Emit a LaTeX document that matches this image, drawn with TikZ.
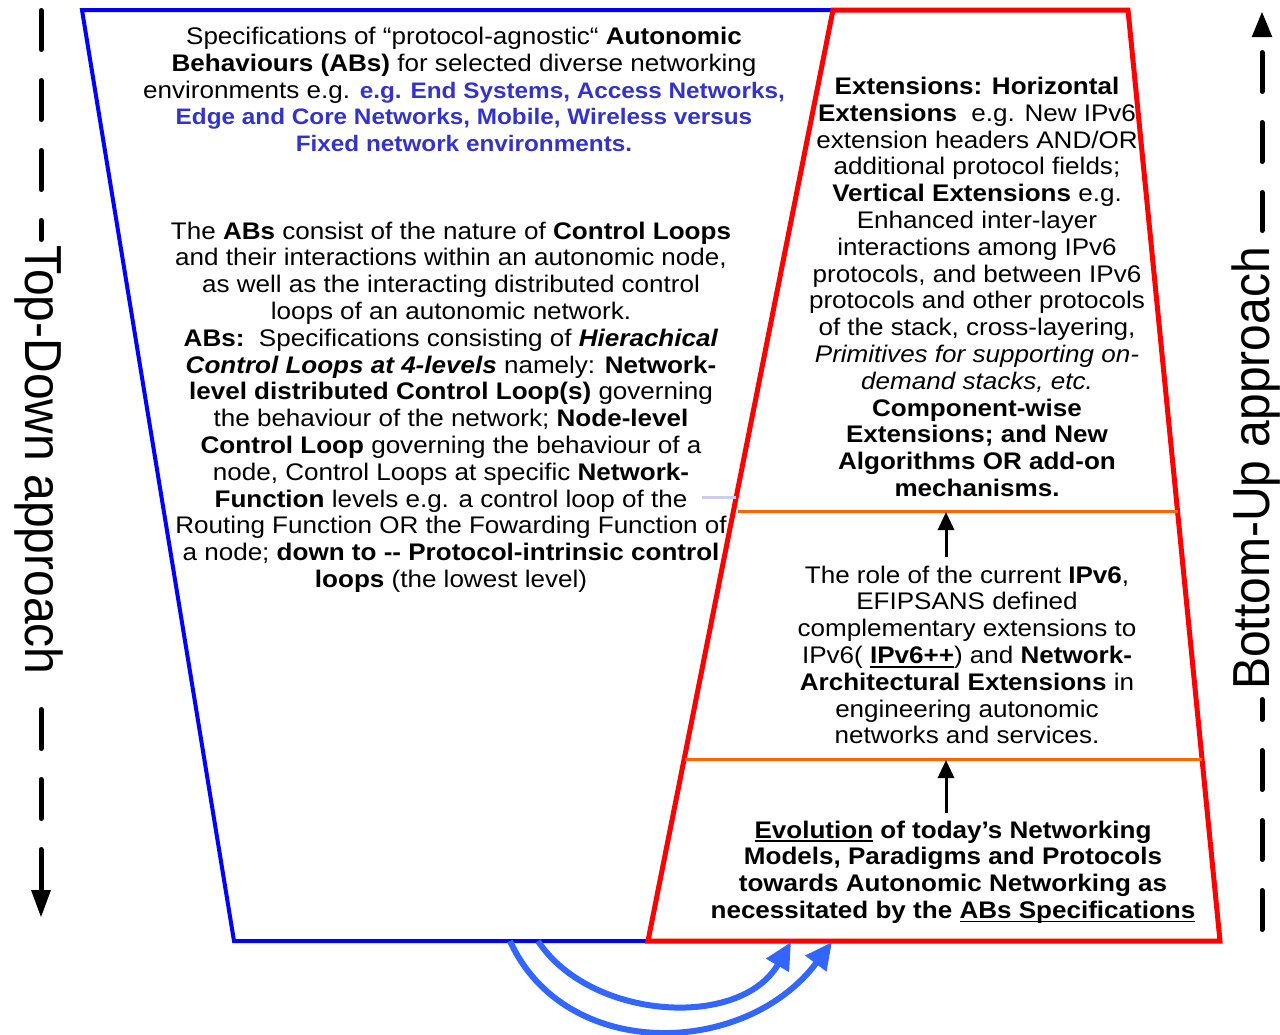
\documentclass[tikz,border=0pt]{standalone}
\usepackage{fontspec}
\setmainfont{Liberation Sans}[FakeStretch=1.085]
\newfontfamily\rotfont{Liberation Sans}
\usetikzlibrary{arrows.meta}
\definecolor{abblue}{HTML}{3333CC}
\definecolor{curveblue}{HTML}{3366FF}
\definecolor{lineorange}{HTML}{FF6600}
\definecolor{lavline}{HTML}{CCCCF5}
\definecolor{edgeblue}{HTML}{0000FF}
\definecolor{edgered}{HTML}{FF0000}
\newsavebox{\ulxbox}
\newcommand\ulx[1]{\leavevmode\sbox{\ulxbox}{#1}\rlap{\rule[-4pt]{\wd\ulxbox}{1.8pt}}\usebox{\ulxbox}}
\newcommand\bluetxt[1]{{\fontsize{22.4}{26.8}\selectfont\bfseries\color{abblue}#1}}
\tikzset{
  txt/.style={align=center, inner sep=0pt, font=\fontsize{24}{26.8}\selectfont},
  rottxt/.style={inner sep=0pt, font=\rotfont\fontsize{48}{50}\selectfont},
  blueedge/.style={draw=edgeblue, line width=4pt},
  rededge/.style={draw=edgered, line width=5pt},
  orangeline/.style={draw=lineorange, line width=3pt},
  upblack/.style={draw=black, line width=3pt, -{Triangle[length=18pt,width=16pt]}},
  dashline/.style={draw=black, line width=5pt, line cap=round, dash pattern=on 39pt off 31pt},
  curvearrow/.style={draw=curveblue, line width=6pt, -{Triangle[length=27pt,width=25pt]}}
}
\begin{document}
\begin{tikzpicture}[x=1pt,y=-1pt]
\useasboundingbox (0,0) rectangle (1280,1034);

% outlines
\draw[blueedge] (833,10) -- (82,10) -- (234,941) -- (648,941);
\draw[rededge] (648,941) -- (833,10) -- (1128,10) -- (1220,941) -- cycle;
\draw[orangeline] (738,511) -- (1178,511);
\draw[orangeline] (685,759) -- (1202,759);
\draw[draw=lavline, line width=3pt] (702,497) -- (736,497);

% text blocks
\node[txt] (spec) at (464,89.5) {Specifications of “protocol-agnostic“ \textbf{Autonomic}\\
\textbf{Behaviours (ABs)} for selected diverse networking\\
environments e.g. \bluetxt{e.g. End Systems, Access Networks,}\\
\bluetxt{Edge and Core Networks, Mobile, Wireless versus}\\
\bluetxt{Fixed network environments.}};

\node[txt] (loops) at (451,407) {The \textbf{ABs} consist of the nature of \textbf{Control Loops}\\
and their interactions within an autonomic node,\\
as well as the interacting distributed control\\
loops of an autonomic network.\\
\textbf{ABs:}\ \ Specifications consisting of \textbf{\textit{Hierachical}}\\
\textbf{\textit{Control Loops at 4-levels}} namely: \textbf{Network-}\\
\textbf{level distributed Control Loop(s)} governing\\
the behaviour of the network; \textbf{Node-level}\\
\textbf{Control Loop} governing the behaviour of a\\
node, Control Loops at specific \textbf{Network-}\\
\textbf{Function} levels e.g. a control loop of the\\
Routing Function OR the Fowarding Function of\\
a node; \textbf{down to -{}- Protocol-intrinsic control}\\
\textbf{loops} (the lowest level)};

\node[txt] (ext) at (977,287) {\textbf{Extensions: Horizontal}\\
\textbf{Extensions}\ \ e.g. New IPv6\\
extension headers AND/OR\\
additional protocol fields;\\
\textbf{Vertical Extensions} e.g.\\
Enhanced inter-layer\\
interactions among IPv6\\
protocols, and between IPv6\\
protocols and other protocols\\
of the stack, cross-layering,\\
\textit{Primitives for supporting on-}\\
\textit{demand stacks, etc.}\\
\textbf{Component-wise}\\
\textbf{Extensions; and New}\\
\textbf{Algorithms OR add-on}\\
\textbf{mechanisms.}};

\node[txt] (role) at (967,655) {The role of the current \textbf{IPv6},\\
EFIPSANS defined\\
complementary extensions to\\
IPv6( \textbf{\ulx{IPv6++}}) and \textbf{Network-}\\
\textbf{Architectural Extensions} in\\
engineering autonomic\\
networks and services.};

\node[txt, font=\fontsize{24}{26.8}\selectfont\bfseries] (evo) at (953,872) {\ulx{Evolution} of today’s Networking\\
Models, Paradigms and Protocols\\
towards Autonomic Networking as\\
necessitated by the \ulx{ABs Specifications}};

% black arrows between layers
\coordinate (roleTop) at (946,557);
\coordinate (line1) at (946,512);
\coordinate (evoTop) at (946,813);
\coordinate (line2) at (946,760);
\draw[upblack] (roleTop) -- (line1);
\draw[upblack] (evoTop) -- (line2);

% side approach labels
\node[rottxt, rotate=-90, anchor=base west] (td) at (25.5,245) {\scalebox{1}[1.085]{Top-Down approach}};
\node[rottxt, rotate=90, anchor=base west] (bu) at (1269,690) {\scalebox{1}[1.085]{Bottom-Up approach}};

\draw[dashline] (41,10.5) -- (41,239.5);
\draw[dashline] (41,709.5) -- (41,818.5);
\draw[draw=black, line width=5pt, line cap=round] (41,849.5) -- (41,892);
\fill[black] (41,917) -- (31,890) -- (51,890) -- cycle;

\draw[dashline] (1262,52.5) -- (1262,230.5);
\draw[dashline] (1262,929.5) -- (1262,699.5);
\fill[black] (1262,12) -- (1251.7,37) -- (1272.3,37) -- cycle;

% blue curved arrows
\coordinate (c1s) at (510,941);
\coordinate (c1e) at (832,942);
\coordinate (c2s) at (538,941);
\coordinate (c2e) at (791,942);
\draw[curvearrow] (c1s) .. controls (565,1062) and (745,1058) .. (c1e);
\draw[curvearrow] (c2s) .. controls (590,1020) and (740,1030) .. (c2e);
\end{tikzpicture}
\end{document}
